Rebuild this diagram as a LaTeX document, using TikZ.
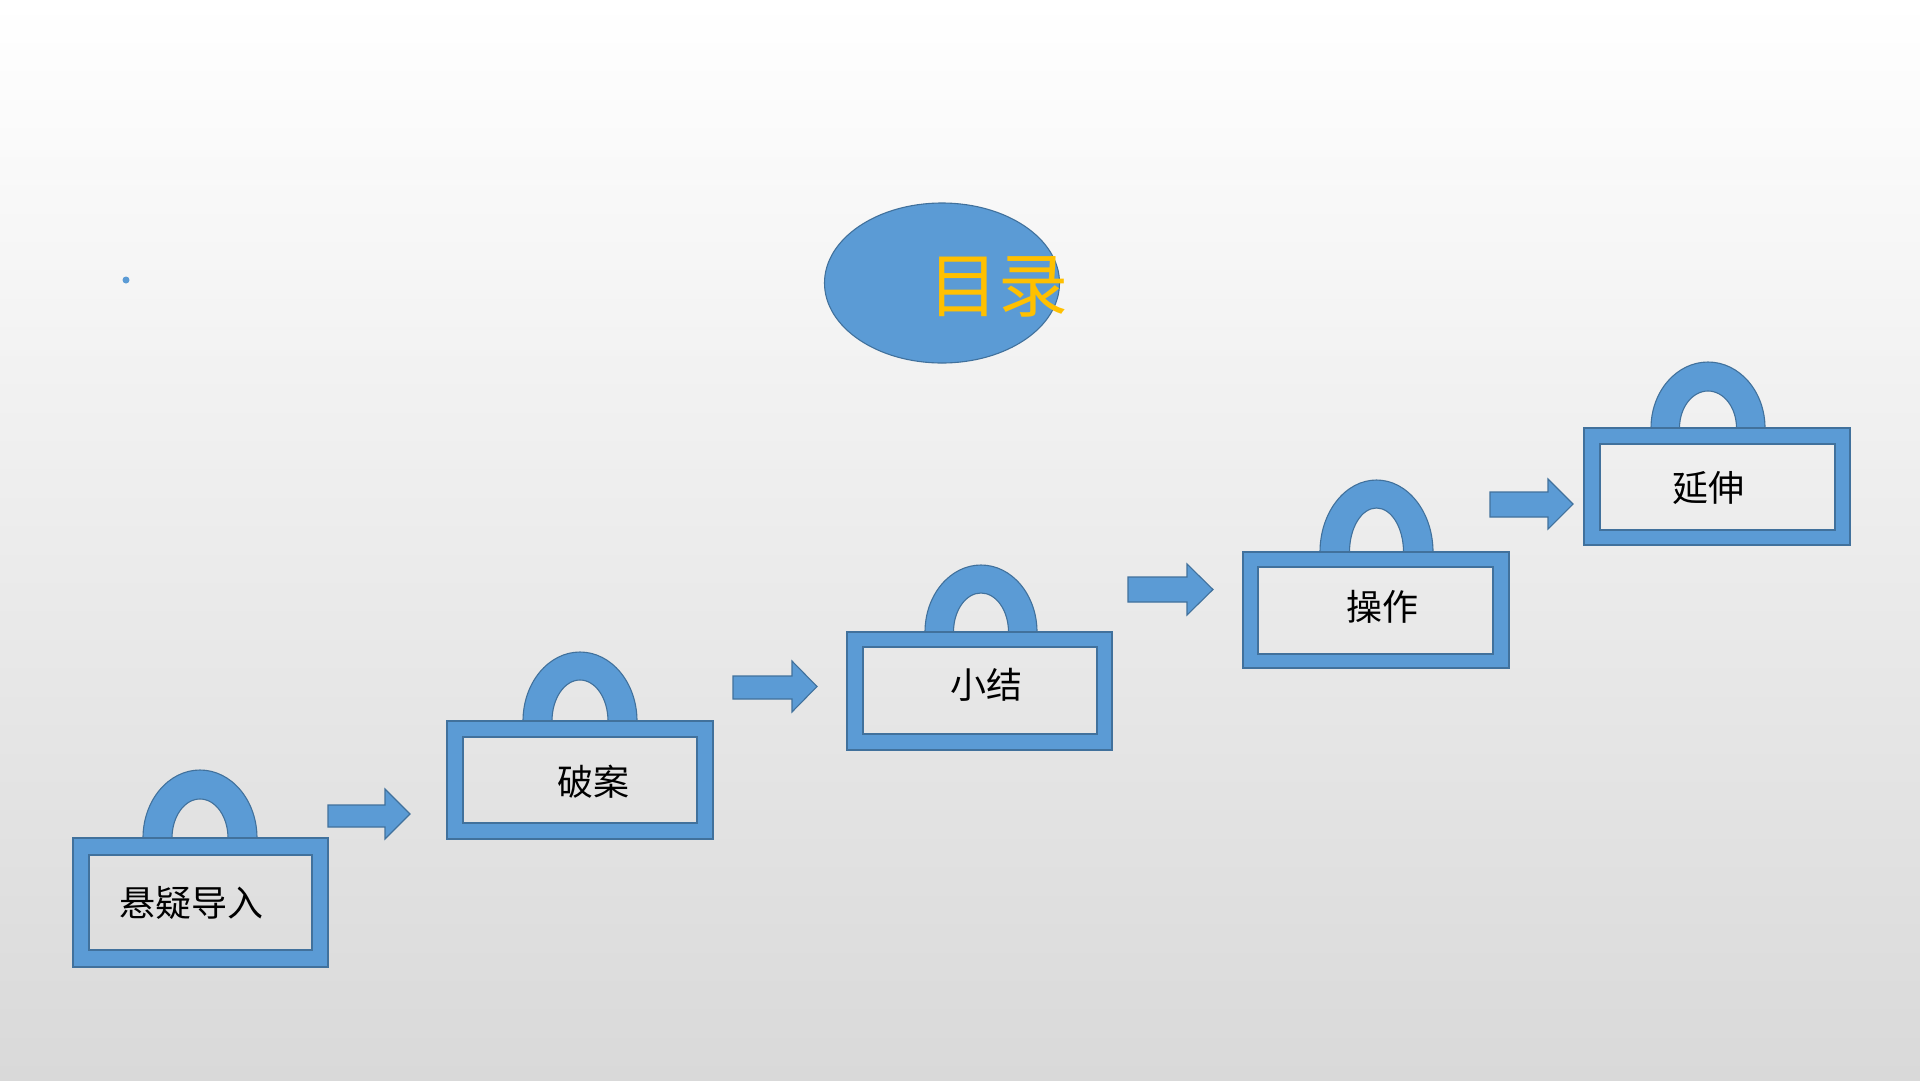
\documentclass[tikz,border=0pt]{standalone}
\usepackage{fontspec}
\newfontfamily\cjk{Noto Sans CJK SC}
\usetikzlibrary{shapes.geometric}
\definecolor{lockblue}{HTML}{5B9BD5}
\definecolor{lockedge}{HTML}{41719C}
\definecolor{gold}{HTML}{FFC000}
\definecolor{bgbot}{HTML}{D9D9D9}
\tikzset{
  blueshape/.style={fill=lockblue, draw=lockedge, line width=1.1pt, line join=miter},
  lbl/.style={font=\cjk\fontsize{36}{40}\selectfont, text=black, inner sep=0pt},
}
\newcommand\lockarch[6]{%
  \draw[blueshape] ({#1-#3},#2) arc[start angle=180,end angle=360,x radius=#3,y radius=#4]
    -- ({#1+#5},#2) arc[start angle=360,end angle=180,x radius=#5,y radius=#6] -- cycle;}
\newcommand\lockframe[8]{%
  \draw[blueshape, even odd rule] (#1,#2) rectangle (#3,#4) (#5,#6) rectangle (#7,#8);}
\newcommand\blockarrow[7]{% x0 ytop ybot xhead htop hbot xtip
  \draw[blueshape] (#1,#2) -- (#4,#2) -- (#4,#5) -- (#7,{(#5+#6)/2}) -- (#4,#6) -- (#4,#3) -- (#1,#3) -- cycle;}
\begin{document}
\begin{tikzpicture}[x=1pt,y=-1pt]
  \shade[top color=white, bottom color=bgbot] (0,0) rectangle (1920,1080);
  \useasboundingbox (0,0) rectangle (1920,1080);

  % title
  \node[ellipse, fill=lockblue, draw=lockedge, line width=1.1pt,
        minimum width=235pt, minimum height=160pt, inner sep=0pt] (menu) at (942,283) {};
  \node[font=\cjk\fontsize{70}{74}\selectfont, text=gold, inner sep=0pt] (title) at (998,287) {目录};
  \fill[lockblue] (126,280) circle[radius=3.5];

  % lock 1
  \lockarch{200}{838}{57}{68}{28}{39}
  \lockframe{73}{838}{328}{967}{89}{855}{312}{950}
  \node[lbl] (t1) at (191,903) {悬疑导入};
  % lock 2
  \lockarch{580}{721}{57}{69}{28}{41}
  \lockframe{447}{721}{713}{839}{463}{737}{697}{823}
  \node[lbl] (t2) at (593,782) {破案};
  % lock 3
  \lockarch{981}{632}{56}{67}{27.5}{39}
  \lockframe{847}{632}{1112}{750}{863}{647}{1097}{734}
  \node[lbl] (t3) at (986,685) {小结};
  % lock 4
  \lockarch{1376.5}{552}{56.5}{72}{27}{44}
  \lockframe{1243}{552}{1509}{668}{1258}{567}{1493}{654}
  \node[lbl] (t4) at (1382,607) {操作};
  % lock 5
  \lockarch{1708}{428}{57}{66}{28.5}{37}
  \lockframe{1584}{428}{1850}{545}{1600}{444}{1835}{530}
  \node[lbl] (t5) at (1708,488) {延伸};

  % arrows
  \blockarrow{328}{805}{827}{385}{789}{839}{410}
  \blockarrow{733}{676}{699}{792}{661}{712}{817}
  \blockarrow{1128}{577}{602}{1187}{564}{615}{1213}
  \blockarrow{1490}{492}{517}{1548}{479}{529}{1573}
\end{tikzpicture}
\end{document}
